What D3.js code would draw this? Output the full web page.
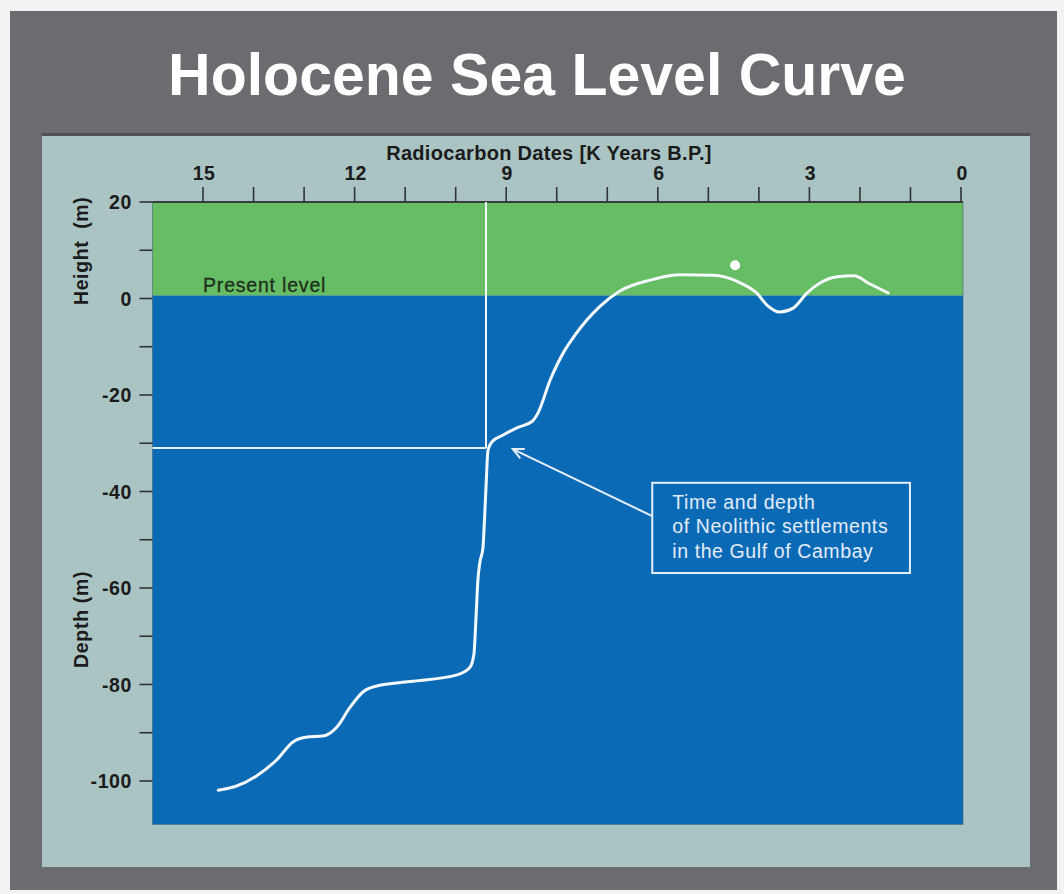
<!DOCTYPE html>
<html>
<head>
<meta charset="utf-8">
<script src="https://cdn.jsdelivr.net/npm/d3@7"></script>
<style>
  html, body { margin: 0; padding: 0; background: #f3f3f3; }
  svg { display: block; }
  text { font-family: "Liberation Sans", Arial, Helvetica, sans-serif; }
</style>
</head>
<body>
<svg id="chart" width="1064" height="894"></svg>
<script>
// ---------------- data ----------------
const title = "Holocene Sea Level Curve";
const xTitle = "Radiocarbon Dates [K Years B.P.]";
const yTitleTop = "Height  (m)";
const yTitleBottom = "Depth (m)";

// sea level curve: age (K years B.P.) and level (m)
const curveAge = [14.70, 14.35, 13.95, 13.54, 13.22, 12.94, 12.63, 12.35, 12.09, 11.83,
                  11.56, 10.90, 9.97, 9.72, 9.64, 9.60, 9.56, 9.52, 9.46, 9.44,
                  9.40, 9.36, 9.28, 9.06, 8.79, 8.49, 8.37, 8.13, 7.84, 7.64,
                  7.14, 6.75, 6.15, 5.56, 4.90, 4.40, 4.04, 3.84, 3.58, 3.32,
                  3.05, 2.79, 2.45, 2.12, 1.80, 1.44];
const curveLevel = [-101.9, -101.1, -99.0, -95.6, -91.9, -90.9, -90.7, -88.8, -84.7, -81.5,
                    -80.3, -79.4, -78.0, -76.5, -73.8, -66.6, -58.3, -54.6, -51.7, -48.0,
                    -39.1, -31.4, -29.7, -28.3, -26.8, -25.5, -23.7, -16.9, -10.7, -7.6,
                    -1.6, 1.55, 3.8, 4.9, 4.8, 3.4, 1.1, -1.35, -2.8, -2.0,
                    1.1, 3.2, 4.5, 4.7, 3.0, 1.15];

const xTickValues = [15, 14, 13, 12, 11, 10, 9, 8, 7, 6, 5, 4, 3, 2, 1, 0];
const xTickLabels = [15, 12, 9, 6, 3, 0];
const yTickValues = [20, 10, 0, -10, -20, -30, -40, -50, -60, -70, -80, -90, -100];
const yTickLabels = [20, 0, -20, -40, -60, -80, -100];

const xDomain = [16, 0];
const yDomain = [20, -109];
const presentLevel = 0.6;      // top of the "sea" band
const presentLabel = "Present level";

// annotation: time and depth of Neolithic settlements
const settlementAge = 9.4;
const settlementDepth = -31;
const dotAge = 4.47, dotLevel = 6.9;
const arrowFrom = [6.11, -45.1], arrowTo = [8.87, -31.2];
const boxAge = [6.11, 1.01], boxLevel = [-38.2, -56.9];
const noteLines = ["Time and depth", "of Neolithic settlements", "in the Gulf of Cambay"];

// ---------------- drawing ----------------
const svg = d3.select("#chart");

const x = d3.scaleLinear().domain(xDomain).range([152.5, 961]);
const y = d3.scaleLinear().domain(yDomain).range([202, 824.4]);

// frames
svg.append("rect").attr("x", 10).attr("y", 11).attr("width", 1047).attr("height", 879)
   .attr("fill", "#6a6c6f");
svg.append("rect").attr("x", 42).attr("y", 134).attr("width", 988).attr("height", 733)
   .attr("fill", "#aac4c4");
svg.append("rect").attr("x", 42).attr("y", 133).attr("width", 988).attr("height", 3)
   .attr("fill", "#4f5153");

// title
svg.append("text").attr("x", 537).attr("y", 95)
   .attr("text-anchor", "middle").attr("fill", "#ffffff")
   .attr("font-size", 59).attr("font-weight", "bold")
   .text(title);

const x0 = x(xDomain[0]), x1 = x(0) + 2;

// green band (above present level)
svg.append("rect").attr("x", x0).attr("y", y(yDomain[0]))
   .attr("width", x1 - x0).attr("height", y(presentLevel) - y(yDomain[0]))
   .attr("fill", "#67bd63");
// blue band (sea)
svg.append("rect").attr("x", x0).attr("y", y(presentLevel))
   .attr("width", x1 - x0).attr("height", y(yDomain[1]) - y(presentLevel))
   .attr("fill", "#0b6ab6");
svg.append("rect").attr("x", x0).attr("y", y(yDomain[0]))
   .attr("width", x1 - x0).attr("height", y(yDomain[1]) - y(yDomain[0]))
   .attr("fill", "none").attr("stroke", "#2d4f66").attr("stroke-opacity", 0.45).attr("stroke-width", 1);

// top axis line
svg.append("line").attr("x1", x0).attr("x2", x1).attr("y1", y(20)).attr("y2", y(20))
   .attr("stroke", "#3a3c3e").attr("stroke-width", 2);

// x ticks (upward)
svg.append("g").selectAll("line").data(xTickValues).join("line")
   .attr("x1", d => x(d)).attr("x2", d => x(d))
   .attr("y1", y(20)).attr("y2", y(20) - 15)
   .attr("stroke", "#333").attr("stroke-width", 1.6);
svg.append("g").selectAll("text").data(xTickLabels).join("text")
   .attr("x", d => x(d) + 1).attr("y", 180)
   .attr("text-anchor", "middle").attr("fill", "#1b1b1b")
   .attr("font-size", 19.5).attr("font-weight", "bold").attr("letter-spacing", 0.4)
   .text(d => d);

// x title
svg.append("text").attr("x", 549).attr("y", 160)
   .attr("text-anchor", "middle").attr("fill", "#1b1b1b")
   .attr("font-size", 20).attr("font-weight", "bold").attr("letter-spacing", 0.3)
   .text(xTitle);

// y ticks (leftward)
svg.append("g").selectAll("line").data(yTickValues).join("line")
   .attr("x1", x0 - 13).attr("x2", x0)
   .attr("y1", d => y(d)).attr("y2", d => y(d))
   .attr("stroke", "#333").attr("stroke-width", 1.6);
svg.append("g").selectAll("text").data(yTickLabels).join("text")
   .attr("x", 132).attr("y", d => y(d)).attr("dy", "0.36em")
   .attr("text-anchor", "end").attr("fill", "#1b1b1b")
   .attr("font-size", 19.5).attr("font-weight", "bold").attr("letter-spacing", 0.6)
   .text(d => d);

// y titles (rotated)
svg.append("text").attr("transform", `translate(88,${(y(20) + y(presentLevel)) / 2 + 2}) rotate(-90)`)
   .attr("text-anchor", "middle").attr("fill", "#1b1b1b")
   .style("white-space", "pre")
   .attr("font-size", 19.5).attr("font-weight", "bold").attr("letter-spacing", 0.6)
   .text(yTitleTop);
svg.append("text").attr("transform", `translate(88,${y(-66.5)}) rotate(-90)`)
   .attr("text-anchor", "middle").attr("fill", "#1b1b1b")
   .attr("font-size", 19.5).attr("font-weight", "bold").attr("letter-spacing", 0.7)
   .text(yTitleBottom);

// present level label
svg.append("text").attr("x", x(15)).attr("y", y(presentLevel) - 4)
   .attr("fill", "#1d301d").attr("font-size", 19.5).attr("letter-spacing", 0.8)
   .attr("stroke", "#1d301d").attr("stroke-width", 0.3)
   .text(presentLabel);

// settlement guide lines
svg.append("line").attr("x1", x(settlementAge)).attr("x2", x(settlementAge))
   .attr("y1", y(20)).attr("y2", y(settlementDepth))
   .attr("stroke", "#f2f7fb").attr("stroke-width", 2);
svg.append("line").attr("x1", x0).attr("x2", x(settlementAge))
   .attr("y1", y(settlementDepth)).attr("y2", y(settlementDepth))
   .attr("stroke", "#e8f0f8").attr("stroke-width", 2);

// sea level curve
const pts = curveAge.map((a, i) => [a, curveLevel[i]]);
const line = d3.line().x(d => x(d[0])).y(d => y(d[1])).curve(d3.curveMonotoneX);
svg.append("path").attr("d", line(pts))
   .attr("fill", "none").attr("stroke", "#f4f9ff").attr("stroke-width", 3)
   .attr("stroke-linecap", "round").attr("stroke-linejoin", "round");

// dot
svg.append("circle").attr("cx", x(dotAge)).attr("cy", y(dotLevel)).attr("r", 5)
   .attr("fill", "#ffffff");

// arrow
const ax1 = x(arrowFrom[0]), ay1 = y(arrowFrom[1]), ax2 = x(arrowTo[0]), ay2 = y(arrowTo[1]);
svg.append("line").attr("x1", ax1).attr("y1", ay1).attr("x2", ax2).attr("y2", ay2)
   .attr("stroke", "#e6eef8").attr("stroke-width", 2);
const ang = Math.atan2(ay1 - ay2, ax1 - ax2), hl = 12, spread = 0.45;
svg.append("path")
   .attr("d", `M${ax2 + hl * Math.cos(ang - spread)},${ay2 + hl * Math.sin(ang - spread)} L${ax2},${ay2} L${ax2 + hl * Math.cos(ang + spread)},${ay2 + hl * Math.sin(ang + spread)}`)
   .attr("fill", "none").attr("stroke", "#e6eef8").attr("stroke-width", 2);

// annotation box
const bx = x(boxAge[0]), by = y(boxLevel[0]);
const bw = x(boxAge[1]) - bx, bh = y(boxLevel[1]) - by;
svg.append("rect").attr("x", bx).attr("y", by).attr("width", bw).attr("height", bh)
   .attr("fill", "none").attr("stroke", "#e6eef8").attr("stroke-width", 2);
svg.append("g").selectAll("text").data(noteLines).join("text")
   .attr("x", bx + 20).attr("y", (d, i) => by + 26 + i * 24.5)
   .attr("fill", "#e3ecf7").attr("font-size", 19.5).attr("letter-spacing", 0.6)
   .text(d => d);
</script>
</body>
</html>
